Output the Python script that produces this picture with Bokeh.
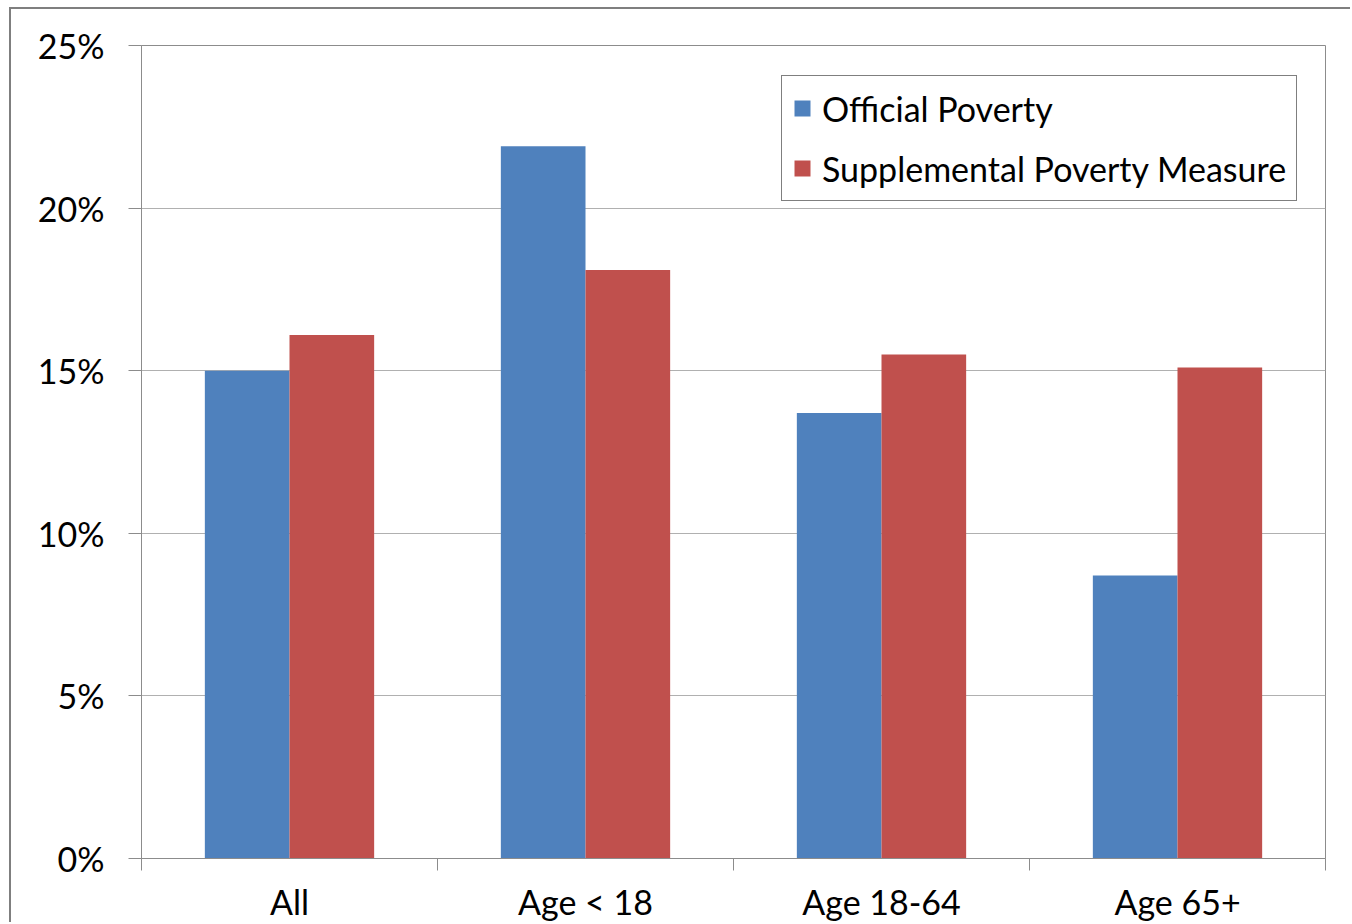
from bokeh.plotting import figure
from bokeh.models import ColumnDataSource, FixedTicker, Legend, LegendItem, NumeralTickFormatter, Range1d
from bokeh.embed import file_html
from bokeh.resources import INLINE

categories = ["All", "Age < 18", "Age 18-64", "Age 65+"]
official = [15.0, 21.9, 13.7, 8.7]
spm = [16.1, 18.1, 15.5, 15.1]
series_names = ["Official Poverty", "Supplemental Poverty Measure"]
y_ticks = [0, 5, 10, 15, 20, 25]

FONT = "Lato"
BLUE = "#4F81BD"
RED = "#C0504D"
GRAY = "#8c8c8c"

centers = [i + 0.5 for i in range(len(categories))]
bw = 0.286
src = ColumnDataSource(dict(
    x_off=[c - bw / 2 for c in centers],
    x_spm=[c + bw / 2 for c in centers],
    official=official,
    spm=spm,
))

p = figure(width=1341, height=915, output_backend="svg", toolbar_location=None,
           x_range=Range1d(0, len(categories)), y_range=Range1d(0, 25),
           min_border_left=130, min_border_right=27, min_border_top=36, min_border_bottom=66)
p.styles = {"margin-left": "9px", "margin-top": "7px",
            "border-left": "2px solid #7f7f7f", "border-top": "2px solid #7f7f7f"}
p.outline_line_color = GRAY
p.outline_line_width = 1
p.background_fill_color = "white"
p.border_fill_color = "white"

r1 = p.vbar(x="x_off", top="official", width=bw, bottom=0, source=src, fill_color=BLUE, line_color=None)
r2 = p.vbar(x="x_spm", top="spm", width=bw, bottom=0, source=src, fill_color=RED, line_color=None)

# y axis
p.yaxis.ticker = FixedTicker(ticks=y_ticks)
p.yaxis.formatter = NumeralTickFormatter(format="0")
p.yaxis.major_label_overrides = {t: f"{t}%" for t in y_ticks}
p.yaxis.axis_line_color = GRAY
p.yaxis.major_tick_line_color = GRAY
p.yaxis.major_tick_out = 13
p.yaxis.major_tick_in = 0
p.yaxis.minor_tick_line_color = None
p.yaxis.major_label_text_font = FONT
p.yaxis.major_label_text_font_size = "34px"
p.yaxis.major_label_text_color = "black"
p.yaxis.major_label_standoff = 24

# x axis
p.xaxis.ticker = FixedTicker(ticks=centers, minor_ticks=list(range(len(categories) + 1)))
p.xaxis.major_label_overrides = {c: lab for c, lab in zip(centers, categories)}
p.xaxis.axis_line_color = GRAY
p.xaxis.major_tick_line_color = None
p.xaxis.minor_tick_line_color = GRAY
p.xaxis.minor_tick_out = 12
p.xaxis.minor_tick_in = 0
p.xaxis.major_label_text_font = FONT
p.xaxis.major_label_text_font_size = "34px"
p.xaxis.major_label_text_color = "black"
p.xaxis.major_label_standoff = 10

p.xgrid.grid_line_color = None
p.ygrid.ticker = FixedTicker(ticks=y_ticks)
p.ygrid.grid_line_color = "#b0b0b0"
p.ygrid.grid_line_width = 1

legend = Legend(items=[LegendItem(label=series_names[0], renderers=[r1]),
                       LegendItem(label=series_names[1], renderers=[r2])],
                location=(640, 657))
legend.border_line_color = "black"
legend.border_line_width = 1
legend.background_fill_color = "white"
legend.background_fill_alpha = 1
legend.label_text_font = FONT
legend.label_text_font_size = "34px"
legend.label_text_color = "black"
legend.glyph_width = 20
legend.glyph_height = 20
legend.label_standoff = 10
legend.padding = 10
legend.spacing = 16
legend.label_height = 44
legend.margin = 0
p.add_layout(legend, "center")

open("out.html", "w").write(file_html(p, INLINE))
